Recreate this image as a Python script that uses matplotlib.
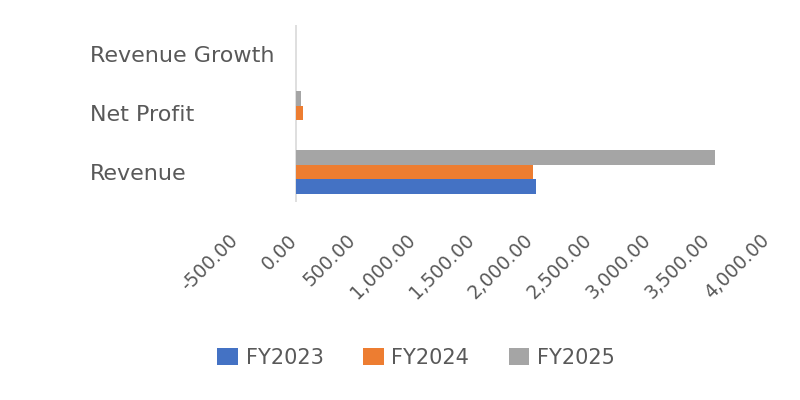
import matplotlib
matplotlib.use("Agg")
import matplotlib.pyplot as plt
from matplotlib.ticker import FuncFormatter
from matplotlib.transforms import ScaledTranslation
import numpy as np

# data
categories = ["Revenue", "Net Profit", "Revenue Growth"]
series_names = ["FY2023", "FY2024", "FY2025"]
fy2023 = [2034, 0, 0]
fy2024 = [2008, 57, -0.01]
fy2025 = [3551, 40, 0.77]
x_ticks = [-500, 0, 500, 1000, 1500, 2000, 2500, 3000, 3500, 4000]

colors = ["#4472C4", "#ED7D31", "#A5A5A5"]
text_col = "#595959"

plt.rcParams["font.family"] = "DejaVu Sans"

fig = plt.figure(figsize=(8, 4), dpi=100)
ax = fig.add_axes([0.296, 0.496, 0.664, 0.4425])

y = np.arange(len(categories))
h = 0.245
for k, (vals, name) in enumerate(zip([fy2023, fy2024, fy2025], series_names)):
    ax.barh(y + (k - 1) * h, vals, height=h, color=colors[k], label=name)

ax.axvline(0, color="#D9D9D9", lw=1.2, zorder=0)

ax.set_xlim(x_ticks[0], x_ticks[-1])
ax.set_ylim(-0.5, len(categories) - 0.5)
ax.set_xticks(x_ticks)
ax.xaxis.set_major_formatter(FuncFormatter(lambda v, p: f"{v:,.2f}"))
ax.set_yticks(y)
ax.set_yticklabels(categories)

for s in ax.spines.values():
    s.set_visible(False)

ax.tick_params(axis="x", length=0, pad=21, labelsize=13.4, colors=text_col)
ax.tick_params(axis="y", length=0, pad=105.8, labelsize=16, colors=text_col)
shift = ScaledTranslation(5 / 100, 0, fig.dpi_scale_trans)
for lbl in ax.get_xticklabels():
    lbl.set_rotation(45)
    lbl.set_ha("right")
    lbl.set_transform(lbl.get_transform() + shift)
for lbl in ax.get_yticklabels():
    lbl.set_ha("left")

leg = fig.legend(loc="center", bbox_to_anchor=(0.52, 0.105), ncol=3,
                 frameon=False, handlelength=1.0, handleheight=0.9,
                 handletextpad=0.35, columnspacing=1.9, fontsize=15)
for t in leg.get_texts():
    t.set_color(text_col)

fig.savefig("out.png", dpi=100, facecolor="white")
